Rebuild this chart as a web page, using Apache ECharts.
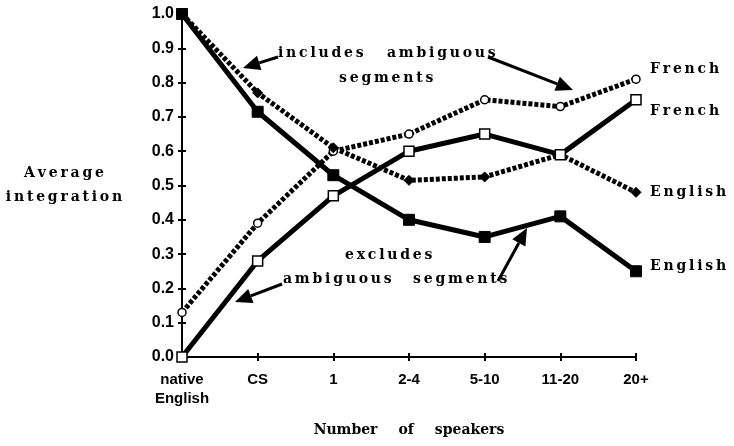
<!DOCTYPE html>
<html>
<head>
<meta charset="utf-8">
<script src="https://cdn.jsdelivr.net/npm/echarts@6/dist/echarts.min.js"></script>
<style>
  html, body { margin: 0; padding: 0; background: #fff; }
  #chart { width: 734px; height: 446px; }
</style>
</head>
<body>
<div id="chart"></div>
<script>
// data
const categories = ['native\nEnglish', 'CS', '1', '2-4', '5-10', '11-20', '20+'];
const englishExcl = [1.0, 0.715, 0.53, 0.40, 0.35, 0.41, 0.25];
const frenchExcl = [0.0, 0.28, 0.47, 0.60, 0.65, 0.59, 0.75];
const englishIncl = [1.0, 0.77, 0.61, 0.515, 0.525, 0.59, 0.48];
const frenchIncl = [0.13, 0.39, 0.60, 0.65, 0.75, 0.73, 0.81];

const serif = 'DejaVu Serif';
const sans = 'Liberation Sans';
// spread the letters a bit, the scan uses a wide typeface
const spaced = s => s.split('').join('\u2009');

const chart = echarts.init(document.getElementById('chart'));

const solid = { color: '#000', width: 5, type: 'solid' };
const dashed = { color: '#000', width: 5, type: [4, 2] };

function endLabel(text, dy) {
    return {
        show: true,
        formatter: spaced(text),
        distance: 14,
        offset: [0, dy],
        color: '#000',
        fontFamily: serif,
        fontWeight: 'bold',
        fontSize: 14
    };
}

function word(text, x, y, align) {
    return {
        type: 'text',
        x: x,
        y: y,
        style: {
            text: spaced(text),
            fill: '#000',
            font: 'bold 14px "' + serif + '"',
            align: align || 'left',
            verticalAlign: 'middle'
        }
    };
}

function arrow(x1, y1, x2, y2) {
    const a = Math.atan2(y2 - y1, x2 - x1);
    const c = Math.cos(a), s = Math.sin(a);
    const L = 17, W = 7.5;
    const bx = x2 - L * c, by = y2 - L * s;
    return [
        {
            type: 'line',
            shape: { x1: x1, y1: y1, x2: bx, y2: by },
            style: { stroke: '#000', lineWidth: 3 }
        },
        {
            type: 'polygon',
            shape: { points: [[x2, y2], [bx + W * s, by - W * c], [bx - W * s, by + W * c]] },
            style: { fill: '#000' }
        }
    ];
}

const option = {
    backgroundColor: '#fff',
    animation: false,
    grid: { left: 182, right: 98, top: 14, bottom: 89 },
    xAxis: [{
        type: 'category',
        data: categories,
        boundaryGap: false,
        name: 'Number\u2003\u2002of\u2003\u2002speakers',
        nameLocation: 'middle',
        nameGap: 66,
        nameTextStyle: {
            color: '#000', fontFamily: serif, fontWeight: 'bold', fontSize: 14,
            verticalAlign: 'top'
        },
        axisLine: { lineStyle: { color: '#000', width: 2 } },
        axisTick: { show: true, length: 4, alignWithLabel: true, lineStyle: { color: '#000', width: 2 } },
        axisLabel: {
            color: '#000', fontFamily: sans, fontWeight: 'bold', fontSize: 15,
            margin: 13, lineHeight: 19, interval: 0
        },
        splitLine: { show: false }
    }, {
        type: 'category',
        data: categories,
        boundaryGap: false,
        position: 'bottom',
        axisLine: { show: false },
        axisTick: { show: true, inside: true, length: 4, lineStyle: { color: '#000', width: 2 } },
        axisLabel: { show: false },
        splitLine: { show: false }
    }],
    yAxis: [{
        type: 'value',
        min: 0,
        max: 1,
        interval: 0.1,
        name: spaced('Average') + '\n' + spaced('integration'),
        nameLocation: 'middle',
        nameRotate: 0,
        nameGap: 118,
        nameTextStyle: {
            color: '#000', fontFamily: serif, fontWeight: 'bold', fontSize: 14,
            align: 'center', lineHeight: 24
        },
        axisLine: { show: true, lineStyle: { color: '#000', width: 2 } },
        axisTick: { show: true, length: 4, lineStyle: { color: '#000', width: 2 } },
        axisLabel: {
            color: '#000', fontFamily: sans, fontWeight: 'bold', fontSize: 16, margin: 8,
            formatter: v => v.toFixed(1)
        },
        splitLine: { show: false }
    }, {
        type: 'value',
        min: 0,
        max: 1,
        interval: 0.1,
        position: 'left',
        axisLine: { show: false },
        axisTick: { show: true, inside: true, length: 4, lineStyle: { color: '#000', width: 2 } },
        axisLabel: { show: false },
        splitLine: { show: false }
    }],
    series: [
        {
            name: 'French (includes)',
            type: 'line',
            data: frenchIncl,
            symbol: 'circle',
            symbolSize: 8,
            showAllSymbol: true,
            lineStyle: dashed,
            itemStyle: { color: '#fff', borderColor: '#000', borderWidth: 1.5 },
            endLabel: endLabel('French', -10),
            z: 2
        },
        {
            name: 'English (includes)',
            type: 'line',
            data: englishIncl,
            symbol: 'diamond',
            symbolSize: 10,
            showAllSymbol: true,
            lineStyle: dashed,
            itemStyle: { color: '#000', borderColor: '#000' },
            endLabel: endLabel('English', 0),
            z: 2
        },
        {
            name: 'French (excludes)',
            type: 'line',
            data: frenchExcl,
            symbol: 'rect',
            symbolSize: 10,
            showAllSymbol: true,
            lineStyle: solid,
            itemStyle: { color: '#fff', borderColor: '#000', borderWidth: 1.5 },
            endLabel: endLabel('French', 12),
            z: 3
        },
        {
            name: 'English (excludes)',
            type: 'line',
            data: englishExcl,
            symbol: 'rect',
            symbolSize: 11,
            showAllSymbol: true,
            lineStyle: solid,
            itemStyle: { color: '#000', borderColor: '#000' },
            endLabel: endLabel('English', -5),
            z: 3
        }
    ],
    graphic: [
        word('includes', 278, 53),
        word('ambiguous', 387, 53),
        word('segments', 339, 78),
        word('excludes', 345, 255),
        word('ambiguous', 283, 279),
        word('segments', 413, 279)
    ]
        .concat(arrow(278, 57, 243, 68))
        .concat(arrow(488, 57, 573, 90))
        .concat(arrow(282, 284, 235, 302))
        .concat(arrow(498, 281, 527, 228))
};

chart.setOption(option);
</script>
</body>
</html>
